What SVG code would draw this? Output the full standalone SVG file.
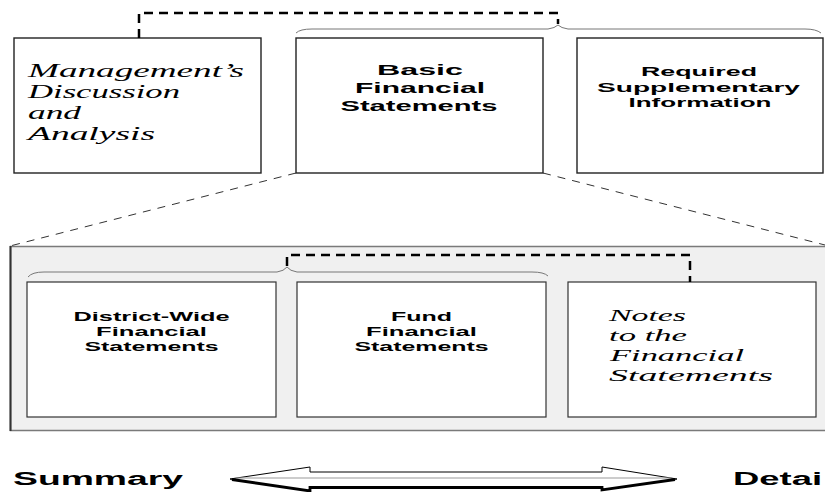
<svg xmlns="http://www.w3.org/2000/svg" width="825" height="492" viewBox="0 0 825 492">
<style>
.box{fill:#fff;stroke:#222;stroke-width:1.4}
.ibox{fill:#fff;stroke:#333;stroke-width:1.2}
.panel{fill:#f0f0f0;stroke:#7a7a7a;stroke-width:1.5}
.b{font-family:"Liberation Sans",Arial,sans-serif;font-weight:bold;fill:#000;text-anchor:middle}
.s{font-family:"Liberation Serif","DejaVu Serif",serif;font-style:italic;fill:#000}
.dash{fill:none;stroke:#000;stroke-width:2.5;stroke-dasharray:9 6}
.thin{fill:none;stroke:#333;stroke-width:1;stroke-dasharray:8 7}
.brace{fill:none;stroke:#777;stroke-width:1}
</style>
<rect x="0" y="0" width="825" height="492" fill="#fff"/>

<g id="panel">
  <rect class="panel" x="10.5" y="246.5" width="830" height="184"/>
  <line x1="10.5" y1="246" x2="10.5" y2="431" stroke="#333" stroke-width="2"/>
</g>

<g id="mda">
  <rect class="box" x="14" y="38" width="247" height="135"/>
  <text class="s" font-size="18"><tspan x="28" y="77" textLength="216" lengthAdjust="spacingAndGlyphs">Management’s</tspan></text>
  <text class="s" font-size="18"><tspan x="28" y="98" textLength="152" lengthAdjust="spacingAndGlyphs">Discussion</tspan></text>
  <text class="s" font-size="18"><tspan x="28" y="119" textLength="53" lengthAdjust="spacingAndGlyphs">and</tspan></text>
  <text class="s" font-size="18"><tspan x="28" y="140" textLength="127" lengthAdjust="spacingAndGlyphs">Analysis</tspan></text>
</g>

<g id="basic">
  <rect class="box" x="296" y="38" width="247" height="135"/>
  <text class="b" font-size="15.5" x="420" y="75" textLength="86" lengthAdjust="spacingAndGlyphs">Basic</text>
  <text class="b" font-size="15.5" x="420" y="93" textLength="130" lengthAdjust="spacingAndGlyphs">Financial</text>
  <text class="b" font-size="15.5" x="419" y="111" textLength="157" lengthAdjust="spacingAndGlyphs">Statements</text>
</g>

<g id="rsi">
  <rect class="box" x="577" y="38" width="246" height="135"/>
  <text class="b" font-size="13.5" x="699" y="76" textLength="116" lengthAdjust="spacingAndGlyphs">Required</text>
  <text class="b" font-size="13.5" x="698.5" y="91.5" textLength="203" lengthAdjust="spacingAndGlyphs">Supplementary</text>
  <text class="b" font-size="13.5" x="700" y="107" textLength="143" lengthAdjust="spacingAndGlyphs">Information</text>
</g>

<g id="districtwide">
  <rect class="ibox" x="27" y="282" width="249" height="135"/>
  <text class="b" font-size="13" x="151.5" y="321" textLength="156" lengthAdjust="spacingAndGlyphs">District-Wide</text>
  <text class="b" font-size="13" x="151.5" y="336" textLength="111" lengthAdjust="spacingAndGlyphs">Financial</text>
  <text class="b" font-size="13" x="151.5" y="351" textLength="134" lengthAdjust="spacingAndGlyphs">Statements</text>
</g>

<g id="fund">
  <rect class="ibox" x="297" y="282" width="249" height="135"/>
  <text class="b" font-size="13" x="421.5" y="321" textLength="61" lengthAdjust="spacingAndGlyphs">Fund</text>
  <text class="b" font-size="13" x="421.5" y="336" textLength="111" lengthAdjust="spacingAndGlyphs">Financial</text>
  <text class="b" font-size="13" x="421.5" y="351" textLength="134" lengthAdjust="spacingAndGlyphs">Statements</text>
</g>

<g id="notes">
  <rect class="ibox" x="568" y="282" width="248" height="135"/>
  <text class="s" font-size="17.5"><tspan x="609" y="321" textLength="77" lengthAdjust="spacingAndGlyphs">Notes</tspan></text>
  <text class="s" font-size="17.5"><tspan x="609" y="341" textLength="78" lengthAdjust="spacingAndGlyphs">to the</tspan></text>
  <text class="s" font-size="17.5"><tspan x="610" y="361" textLength="134" lengthAdjust="spacingAndGlyphs">Financial</tspan></text>
  <text class="s" font-size="17.5"><tspan x="609" y="381" textLength="164" lengthAdjust="spacingAndGlyphs">Statements</tspan></text>
</g>

<g id="connectors">
  <path class="brace" d="M296,33 Q300,29 312,29 L548,29 Q555,28 558,25 Q561,28 568,29 L805,29 Q816,29 821,33"/>
  <path class="dash" d="M139,38 V13 H558 V24"/>
  <line class="thin" x1="296" y1="173" x2="10" y2="246"/>
  <line class="thin" x1="543" y1="173" x2="825" y2="245"/>
  <path class="brace" d="M28,277 Q32,272 44,272 L277,272 Q284,271 287,267 Q290,271 297,272 L532,272 Q544,272 548,276"/>
  <path class="dash" d="M287,266 V255 H690 V282"/>
</g>

<g id="scale">
  <text class="b" font-size="18" x="98" y="485" textLength="170" lengthAdjust="spacingAndGlyphs">Summary</text>
  <text x="733" y="485" font-size="18" font-family="Liberation Sans, Arial, sans-serif" font-weight="bold" textLength="89" lengthAdjust="spacingAndGlyphs">Detai</text>
  <polygon points="230,479 310,467 310,472 602,472 602,467 677,479 602,490 602,487.5 310,487.5 310,491" fill="#fff" stroke="#000" stroke-width="1"/>
  <line x1="236" y1="478" x2="671" y2="478" stroke="#999" stroke-width="1"/>
  <polyline points="232,479.5 310,491 310,487.5 602,487.5 602,490 675,479.5" fill="none" stroke="#000" stroke-width="2.8"/>
</g>
</svg>
